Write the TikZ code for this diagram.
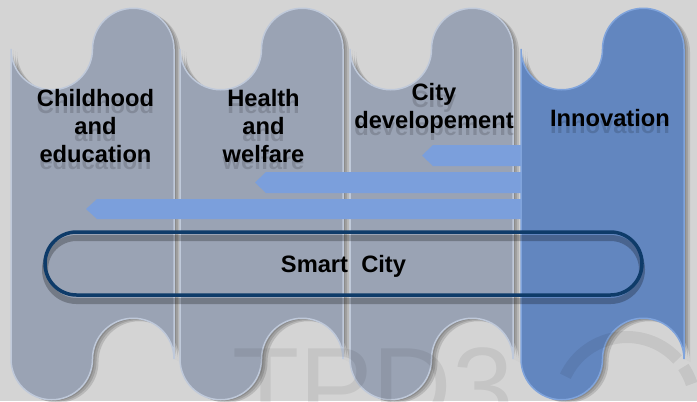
\documentclass[tikz,border=0pt]{standalone}
\usepackage{fontspec}
\setmainfont{Liberation Sans}
\usetikzlibrary{positioning}

\definecolor{pagebg}{HTML}{D4D4D4}
\definecolor{colgray}{HTML}{9AA3B4}
\definecolor{colrim}{HTML}{BFC9DA}
\definecolor{colblue}{HTML}{6286BF}
\definecolor{bluerim}{HTML}{80A4DC}
\definecolor{flowblue}{HTML}{7B9FDC}
\definecolor{navy}{HTML}{0E3B69}

% outline of one puzzle column, #1 = left edge
\newcommand{\piece}[1]{(#1,49) arc[start angle=180, end angle=0, radius=40.75]
  arc[start angle=180, end angle=360, radius=40.75] -- (#1+163,359)
  arc[start angle=0, end angle=-180, radius=40.75]
  arc[start angle=0, end angle=180, radius=40.75] -- cycle}

\tikzset{
  piece gray/.style={fill=colgray, draw=colrim, line width=1.5bp},
  piece blue/.style={fill=colblue, draw=bluerim, line width=1.5bp},
  flow/.style={fill=flowblue},
  colname/.style={font=\bfseries\fontsize{23.7bp}{28bp}\selectfont, align=center, anchor=base, inner sep=0pt},
  ghost/.style={colname, text opacity=0.15, yshift=-7bp},
  smartbox/.style={draw=navy, line width=3.5bp, rounded corners=31.5bp, minimum width=597bp, minimum height=63bp, inner sep=0pt, text depth=0pt, font=\bfseries\fontsize{23.7bp}{28bp}\selectfont},
  watermark/.style={text=black, text opacity=0.07, font=\fontsize{110bp}{110bp}\selectfont, inner sep=0pt, anchor=north west}
}

\begin{document}
\begin{tikzpicture}[x=1bp, y=-1bp]
    % page
    \fill[pagebg] (0,0) rectangle (697,401);
    \useasboundingbox (0,0) rectangle (697,401);

    % soft shadows of the columns
    \foreach \dx/\dy in {2/1, 4/2, 6/3} {
        \fill[black, opacity=0.13, xshift=\dx bp, yshift=-\dy bp] \piece{11};
        \fill[black, opacity=0.13, xshift=\dx bp, yshift=-\dy bp] \piece{180};
        \fill[black, opacity=0.13, xshift=\dx bp, yshift=-\dy bp] \piece{350};
        \fill[black, opacity=0.13, xshift=\dx bp, yshift=-\dy bp] \piece{521};
    }

    % the columns
    \filldraw[piece gray] \piece{11};
    \filldraw[piece gray] \piece{180};
    \filldraw[piece gray] \piece{350};

    % flows out of innovation
    \fill[flow] (521,145) -- (433,145) -- (422,155.5) -- (433,166) -- (521,166) -- cycle;
    \fill[flow] (521,172) -- (266,172) -- (255,182.5) -- (266,193) -- (521,193) -- cycle;
    \fill[flow] (521,199) -- (97,199) -- (86,209) -- (97,219) -- (521,219) -- cycle;

    \filldraw[piece blue] \piece{521};

    % column titles (base = last line), with their shadows
    \node[ghost] at (95.5,162) {Childhood\\and\\education};
    \node[colname] (child) at (95.5,162) {Childhood\\and\\education};
    \node[ghost] at (263.5,162) {Health\\and\\welfare};
    \node[colname] (health) at (263.5,162) {Health\\and\\welfare};
    \node[ghost] at (434,128) {City\\developement};
    \node[colname] (city) at (434,128) {City\\developement};
    \node[ghost] at (610,126) {Innovation};
    \node[colname] (innov) at (610,126) {Innovation};

    % smart city band
    \draw[black, opacity=0.25, line width=6bp, rounded corners=31.5bp] (45,238) rectangle (642,301);
    \node[smartbox] (smart) at (343.5,263.5) {Smart\ \ City};

    % faint watermark
    \node[watermark] (wmark) at (232,347) {TPD3};
    \draw[black, opacity=0.07, line width=12bp] (627,405) ++(205:68) arc[start angle=205, end angle=318, radius=68];
    \draw[black, opacity=0.07, line width=12bp] (627,405) ++(326:68) arc[start angle=326, end angle=342, radius=68];
\end{tikzpicture}
\end{document}
